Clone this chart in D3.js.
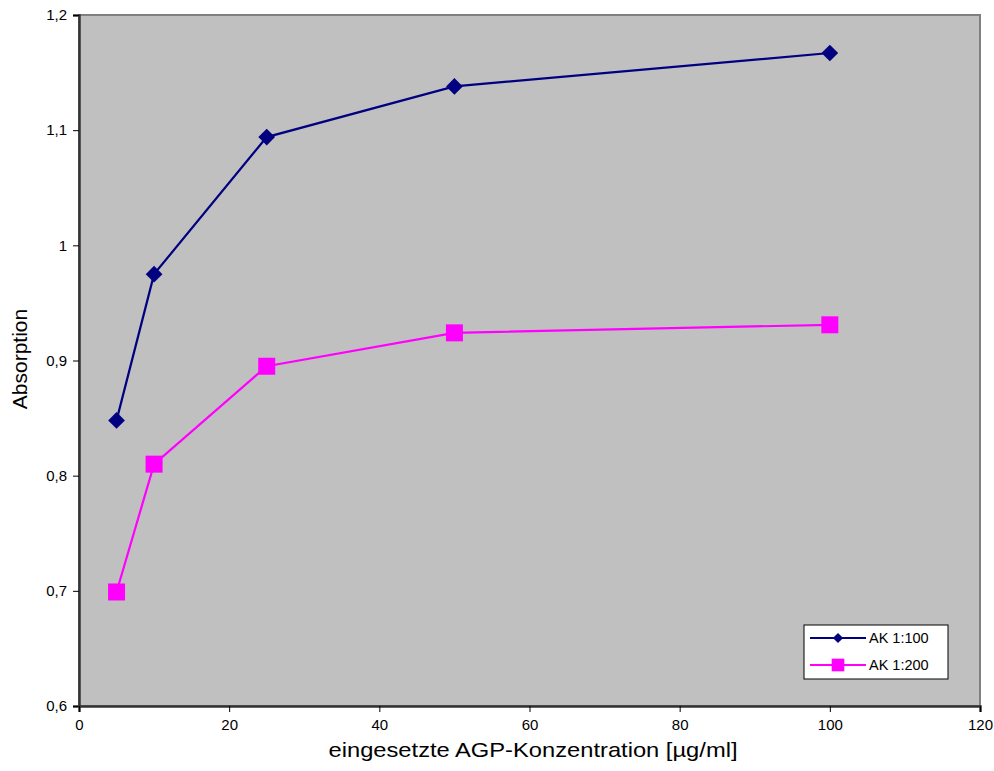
<!DOCTYPE html>
<html><head><meta charset="utf-8">
<script src="https://cdn.jsdelivr.net/npm/d3@7"></script>
<style>body{margin:0;background:#fff;} text{font-family:"Liberation Sans",Arial,sans-serif;}</style>
</head><body>
<svg id="c" width="994" height="771"></svg>
<script>
const xValues = [5, 10, 25, 50, 100];
const seriesNames = ["AK 1:100", "AK 1:200"];
const ak100 = [0.848, 0.975, 1.094, 1.138, 1.167];
const ak200 = [0.699, 0.810, 0.895, 0.924, 0.931];
const xTicks = [0, 20, 40, 60, 80, 100, 120];
const yTicks = [0.6, 0.7, 0.8, 0.9, 1.0, 1.1, 1.2];
const xTitle = "eingesetzte AGP-Konzentration [µg/ml]";
const yTitle = "Absorption";

const svg = d3.select("#c");
const L = 79, R = 980, T = 15, B = 706;
const x = d3.scaleLinear().domain([0, 120]).range([L, R]);
const y = d3.scaleLinear().domain([0.6, 1.2]).range([B, T]);

svg.append("rect").attr("x", L).attr("y", T).attr("width", R - L).attr("height", B - T)
  .attr("fill", "#c0c0c0").attr("stroke", "#808080").attr("stroke-width", 2);

const yAxis = d3.axisLeft(y).tickValues(yTicks).tickSize(6).tickPadding(6)
  .tickFormat(d => Math.abs(d - 1) < 1e-9 ? "1" : d3.format(".1f")(d).replace(".", ","));
const gy = svg.append("g").attr("transform", `translate(${L},0)`).call(yAxis);
const xAxis = d3.axisBottom(x).tickValues(xTicks).tickSize(6).tickPadding(7);
const gx = svg.append("g").attr("transform", `translate(0,${B})`).call(xAxis);
[gx, gy].forEach(g => {
  g.select(".domain").attr("stroke", "#333").attr("stroke-width", 2.5);
  g.selectAll(".tick line").attr("stroke", "#000");
  g.selectAll("text").attr("font-size", 15).attr("fill", "#000")
    .attr("font-family", "'Liberation Sans', Arial, sans-serif");
});

const line = d3.line().x((d, i) => x(xValues[i])).y(d => y(d));
const series = [
  {name: seriesNames[0], values: ak100, color: "#000080", sym: d3.symbolSquare, size: 140, rot: 45, lsize: 52},
  {name: seriesNames[1], values: ak200, color: "#ff00ff", sym: d3.symbolSquare, size: 289, rot: 0, lsize: 160}
];
series.forEach(s => {
  svg.append("path").attr("d", line(s.values)).attr("fill", "none")
    .attr("stroke", s.color).attr("stroke-width", 2.2);
  s.values.forEach((v, i) => {
    svg.append("path").attr("d", d3.symbol().type(s.sym).size(s.size)())
      .attr("transform", `translate(${x(xValues[i])},${y(v)}) rotate(${s.rot})`)
      .attr("fill", s.color);
  });
});

// legend
const lg = svg.append("g");
lg.append("rect").attr("x", 804).attr("y", 625).attr("width", 144).attr("height", 54)
  .attr("fill", "#fff").attr("stroke", "#000").attr("stroke-width", 1);
series.forEach((s, i) => {
  const cy = 638 + i * 27;
  lg.append("line").attr("x1", 810).attr("x2", 866).attr("y1", cy).attr("y2", cy)
    .attr("stroke", s.color).attr("stroke-width", 2.2);
  lg.append("path").attr("d", d3.symbol().type(s.sym).size(s.lsize)())
    .attr("transform", `translate(838,${cy}) rotate(${s.rot})`).attr("fill", s.color);
  lg.append("text").attr("x", 869).attr("y", cy + 5).attr("font-size", 14.5).text(s.name);
});

svg.append("text").attr("x", 533).attr("y", 757).attr("text-anchor", "middle")
  .attr("font-size", 21).attr("textLength", 409).attr("lengthAdjust", "spacingAndGlyphs").text(xTitle);
svg.append("text").attr("transform", `translate(27,359) rotate(-90)`)
  .attr("text-anchor", "middle").attr("font-size", 21).text(yTitle);
</script>
</body></html>
